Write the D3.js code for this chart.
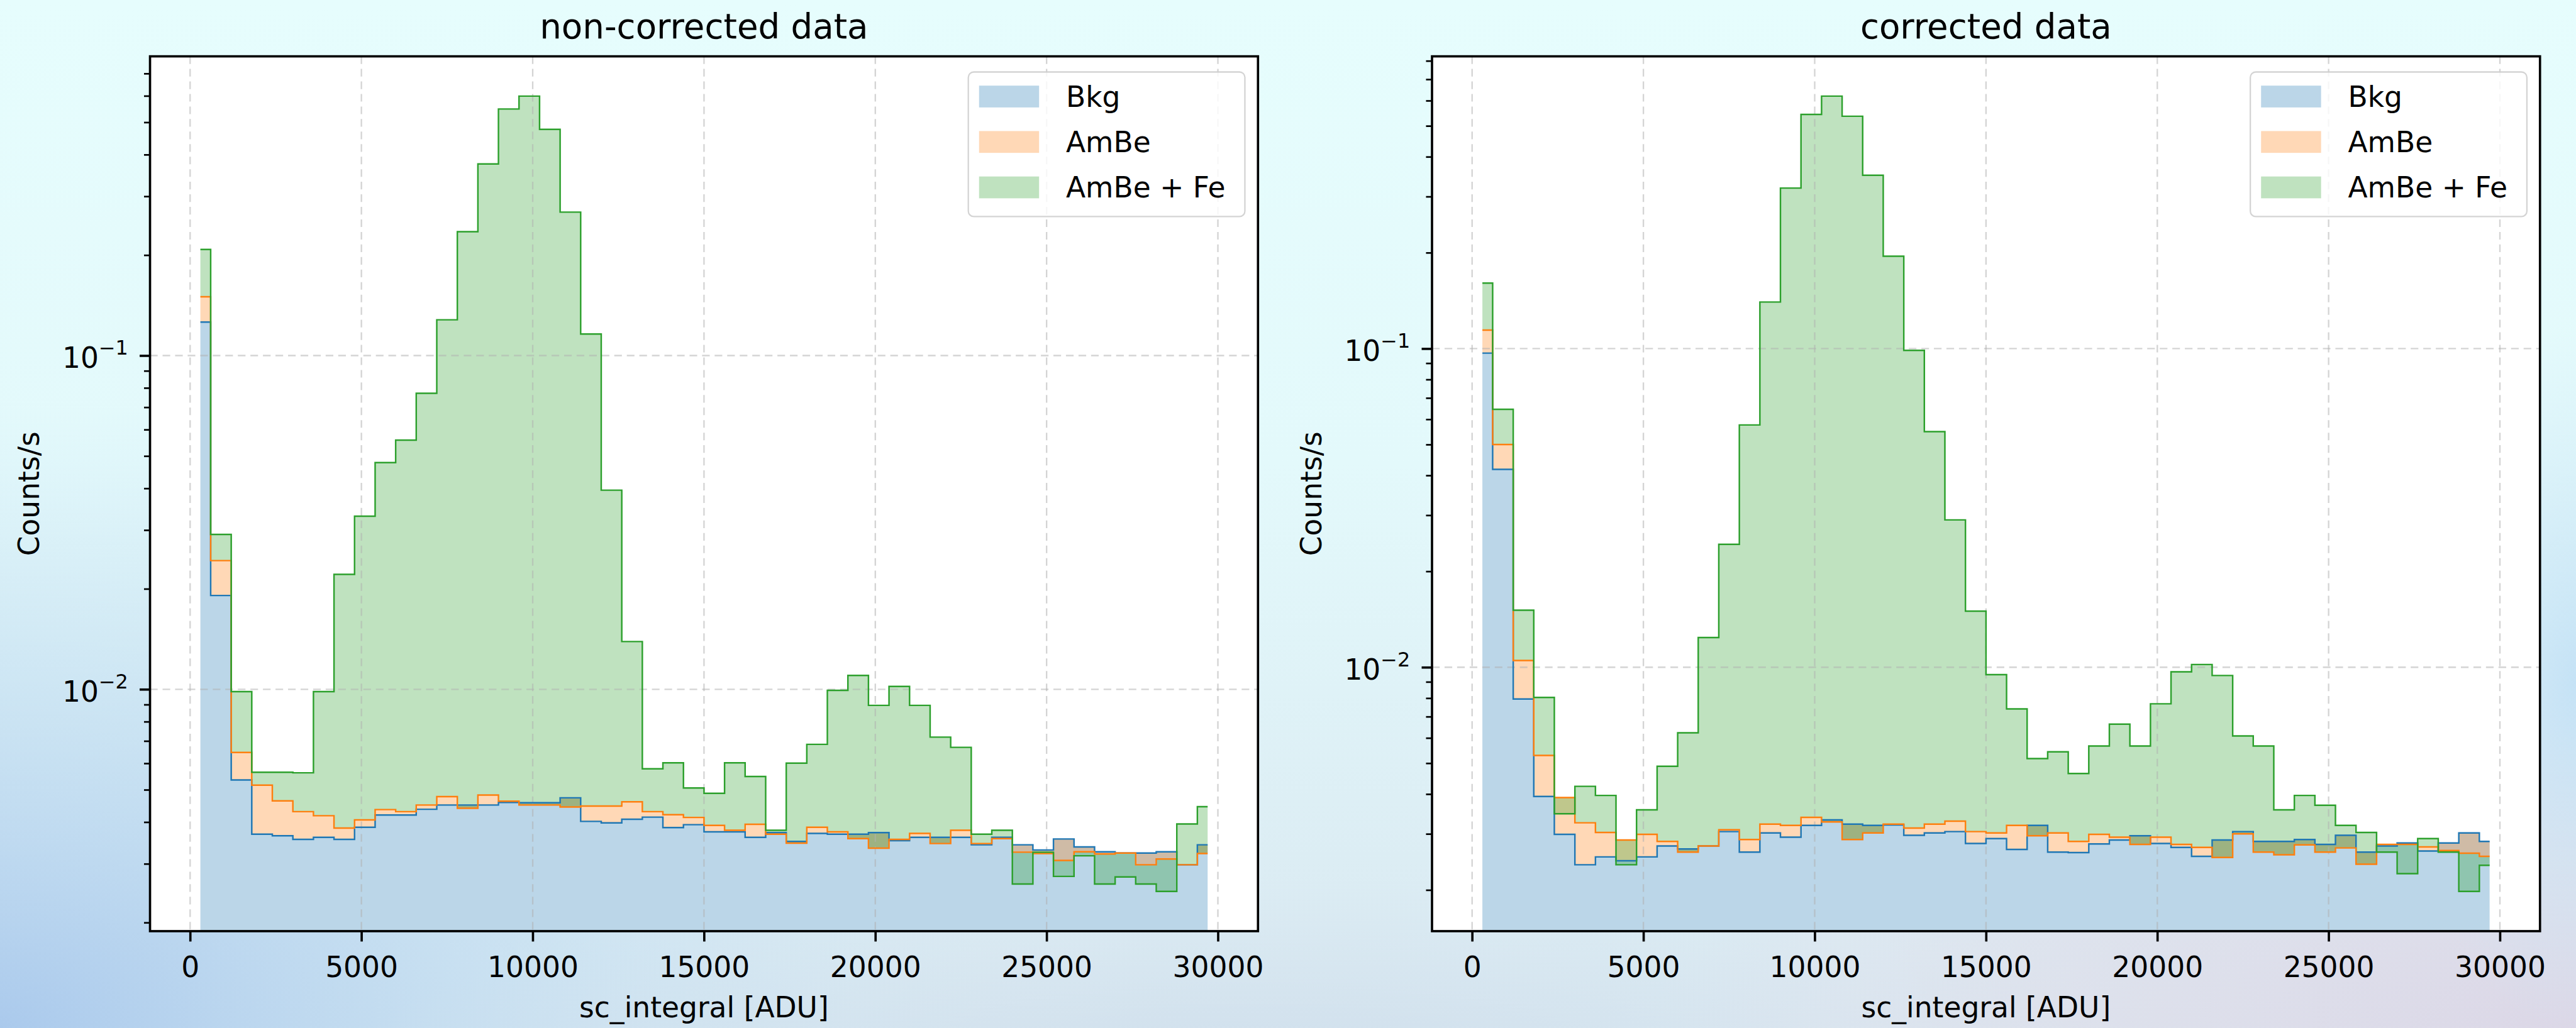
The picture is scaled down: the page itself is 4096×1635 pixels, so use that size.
<!DOCTYPE html>
<html>
<head>
<meta charset="utf-8">
<script src="https://cdn.jsdelivr.net/npm/d3@7"></script>
<style>
  html, body { margin: 0; padding: 0; background: #e6fcfc; overflow: hidden; }
  svg { display: block; }
  text { font-family: "DejaVu Sans", "Liberation Sans", sans-serif; fill: #000; }
</style>
</head>
<body>
<svg id="fig" width="4096" height="1635"></svg>
<script>
// ---- histogram binning (ADU): half-width bins at both ends, 600 ADU bins between ----
const binEdges = [300].concat(d3.range(600, 29401, 600), [29700]);

const seriesNames  = ["Bkg", "AmBe", "AmBe + Fe"];
const seriesColors = ["#1f77b4", "#ff7f0e", "#2ca02c"];
const panelTitles  = ["non-corrected data", "corrected data"];
const xTickValues  = [0, 5000, 10000, 15000, 20000, 25000, 30000];
const yTickValues  = [1e-2, 1e-1];
const yTickExponents = ["\u22122", "\u22121"];
const xAxisLabel = "sc_integral [ADU]";
const yAxisLabel = "Counts/s";

// ---- rates per bin (Counts/s), non-corrected data ----
const rawBkg = [0.126, 0.0191, 0.00535, 0.00368, 0.00364, 0.00355, 0.00360, 0.00355, 0.00386, 0.00420,
                0.00420, 0.00437, 0.00450, 0.00450, 0.00450, 0.00458, 0.00457, 0.00457, 0.00473, 0.00402,
                0.00398, 0.00408, 0.00414, 0.00385, 0.00393, 0.00374, 0.00374, 0.00360, 0.00372, 0.00350,
                0.00370, 0.00368, 0.00368, 0.00372, 0.00352, 0.00360, 0.00360, 0.00360, 0.00342, 0.00360,
                0.00342, 0.00330, 0.00356, 0.00337, 0.00326, 0.00323, 0.00323, 0.00326, 0.00298, 0.00342];
const rawAmBe = [0.150, 0.0243, 0.00647, 0.00516, 0.00463, 0.00430, 0.00418, 0.00384, 0.00406, 0.00436,
                 0.00430, 0.00450, 0.00477, 0.00440, 0.00482, 0.00462, 0.00450, 0.00450, 0.00444, 0.00447,
                 0.00447, 0.00460, 0.00430, 0.00421, 0.00413, 0.00391, 0.00378, 0.00394, 0.00368, 0.00346,
                 0.00386, 0.00374, 0.00357, 0.00334, 0.00355, 0.00370, 0.00345, 0.00378, 0.00345, 0.00357,
                 0.00325, 0.00322, 0.00307, 0.00326, 0.00321, 0.00323, 0.00298, 0.00310, 0.00298, 0.00322];
const rawAmBeFe = [0.208, 0.0291, 0.00984, 0.00564, 0.00564, 0.00562, 0.00984, 0.0221, 0.0330, 0.0478,
                   0.0558, 0.0771, 0.128, 0.235, 0.375, 0.548, 0.599, 0.476, 0.269, 0.116,
                   0.0395, 0.0139, 0.00578, 0.00602, 0.00506, 0.00488, 0.00602, 0.00548, 0.00378, 0.00601,
                   0.00684, 0.00993, 0.0110, 0.00895, 0.0102, 0.00895, 0.00719, 0.00670, 0.00368, 0.00378,
                   0.00261, 0.00325, 0.00275, 0.00317, 0.00261, 0.00274, 0.00261, 0.00248, 0.00395, 0.00445];

// ---- rates per bin (Counts/s), corrected data ----
const corrBkg = [0.0968, 0.0418, 0.00795, 0.00393, 0.00299, 0.00240, 0.00254, 0.00247, 0.00254, 0.00275,
                 0.00269, 0.00275, 0.00305, 0.00263, 0.00302, 0.00293, 0.00319, 0.00332, 0.00322, 0.00319,
                 0.00320, 0.00297, 0.00302, 0.00305, 0.00280, 0.00290, 0.00268, 0.00319, 0.00263, 0.00262,
                 0.00279, 0.00287, 0.00296, 0.00280, 0.00272, 0.00255, 0.00287, 0.00305, 0.00284, 0.00284,
                 0.00288, 0.00278, 0.00297, 0.00263, 0.00275, 0.00281, 0.00265, 0.00281, 0.00302, 0.00284];
const corrAmBe = [0.1143, 0.0500, 0.0105, 0.00529, 0.00390, 0.00325, 0.00303, 0.00287, 0.00299, 0.00284,
                  0.00263, 0.00275, 0.00309, 0.00288, 0.00322, 0.00319, 0.00338, 0.00327, 0.00288, 0.00302,
                  0.00322, 0.00313, 0.00322, 0.00329, 0.00305, 0.00302, 0.00319, 0.00296, 0.00302, 0.00284,
                  0.00299, 0.00293, 0.00278, 0.00293, 0.00278, 0.00272, 0.00253, 0.00300, 0.00263, 0.00258,
                  0.00277, 0.00263, 0.00271, 0.00241, 0.00278, 0.00278, 0.00273, 0.00266, 0.00261, 0.00255];
const corrAmBeFe = [0.1605, 0.0645, 0.0151, 0.00804, 0.00347, 0.00423, 0.00396, 0.00240, 0.00357, 0.00489,
                    0.00623, 0.0124, 0.0243, 0.0576, 0.140, 0.319, 0.543, 0.620, 0.536, 0.350,
                    0.195, 0.0987, 0.0549, 0.0290, 0.0150, 0.00948, 0.00740, 0.00517, 0.00543, 0.00464,
                    0.00566, 0.00663, 0.00566, 0.00768, 0.00968, 0.0102, 0.00942, 0.00609, 0.00566, 0.00357,
                    0.00396, 0.00369, 0.00319, 0.00303, 0.00263, 0.00225, 0.00290, 0.00263, 0.00198, 0.00239];

// ---- layout (figure units: 4722 x 1885, scaled to the window) ----
const FIG_W = 4722, FIG_H = 1885;
const S = 4096 / FIG_W;
const AX_TOP = 103.3, AX_BOTTOM = 1707.3;
const FS = 52.5, TITLE_FS = 63;
const panels = [
  { left: 275,  right: 2306, title: panelTitles[0], series: [rawBkg, rawAmBe, rawAmBeFe],   yLabelX: 72 },
  { left: 2625, right: 4656, title: panelTitles[1], series: [corrBkg, corrAmBe, corrAmBeFe], yLabelX: 2422 }
];

const svg = d3.select("#fig");
const defs = svg.append("defs");
const root = svg.append("g").attr("transform", `scale(${S})`);

// ---- figure background ----
function linGrad(id, stops) {
  const g = defs.append("linearGradient").attr("id", id)
    .attr("gradientUnits", "userSpaceOnUse")
    .attr("x1", 0).attr("y1", 0).attr("x2", 0).attr("y2", FIG_H);
  stops.forEach(([o, c, a]) => g.append("stop").attr("offset", o).attr("stop-color", c).attr("stop-opacity", a));
}
function radGrad(id, cx, cy, rx, ry, stops) {
  const g = defs.append("radialGradient").attr("id", id)
    .attr("gradientUnits", "userSpaceOnUse")
    .attr("cx", cx).attr("cy", cy).attr("r", rx)
    .attr("gradientTransform", `translate(${cx},${cy}) scale(1,${ry / rx}) translate(${-cx},${-cy})`);
  stops.forEach(([o, c, a]) => g.append("stop").attr("offset", o).attr("stop-color", c).attr("stop-opacity", a));
}
linGrad("bgBase", [[0, "#e6fdfd", 1], [0.45, "#e3f9fb", 1], [1, "#d9e8f1", 1]]);
radGrad("bgBL", 0, FIG_H, 1800, 1150, [[0, "#a8c8ec", 0.95], [0.45, "#bcd9f0", 0.65], [1, "#c8e4f4", 0]]);
radGrad("bgBC", 2300, FIG_H + 100, 1700, 380, [[0, "#cbdbea", 0.8], [1, "#d4e2ee", 0]]);
radGrad("bgBR", FIG_W, FIG_H, 1700, 750, [[0, "#dcd6e6", 0.95], [0.6, "#e0dde9", 0.55], [1, "#e4e4ee", 0]]);
radGrad("bgR", FIG_W, 1250, 320, 650, [[0, "#c2e1f6", 0.9], [1, "#cfe8f6", 0]]);
["bgBase", "bgBL", "bgBC", "bgBR", "bgR"].forEach(id =>
  root.append("rect").attr("x", 0).attr("y", 0).attr("width", FIG_W).attr("height", FIG_H).attr("fill", `url(#${id})`));

// ---- axis helpers ----
const xExtent = d3.extent(binEdges);
const xPad = 0.05 * (xExtent[1] - xExtent[0]);
const xDomain = [xExtent[0] - xPad, xExtent[1] + xPad];

function logDomain(arrays) {
  const all = arrays.flat();
  const lo = Math.log10(d3.min(all)), hi = Math.log10(d3.max(all));
  const pad = 0.05 * (hi - lo);
  return [Math.pow(10, lo - pad), Math.pow(10, hi + pad)];
}

panels.forEach((p, pi) => {
  const g = root.append("g");
  const x = d3.scaleLinear().domain(xDomain).range([p.left, p.right]);
  const y = d3.scaleLog().domain(logDomain(p.series)).range([AX_BOTTOM, AX_TOP]);

  // axes face
  g.append("rect").attr("x", p.left).attr("y", AX_TOP)
    .attr("width", p.right - p.left).attr("height", AX_BOTTOM - AX_TOP).attr("fill", "#fff");

  const clipId = `plotClip${pi}`;
  defs.append("clipPath").attr("id", clipId).append("rect")
    .attr("x", p.left).attr("y", AX_TOP).attr("width", p.right - p.left).attr("height", AX_BOTTOM - AX_TOP);
  const plot = g.append("g").attr("clip-path", `url(#${clipId})`);

  // filled bands: each series fills from the previous series' outline to its own
  p.series.forEach((vals, si) => {
    const prev = si === 0 ? null : p.series[si - 1];
    const pts = binEdges.map((e, i) => {
      const j = Math.min(i, vals.length - 1);
      return { e, hi: vals[j], lo: prev ? prev[j] : null };
    });
    const area = d3.area().curve(d3.curveStepAfter)
      .x(d => x(d.e))
      .y0(d => d.lo == null ? AX_BOTTOM : y(d.lo))
      .y1(d => y(d.hi));
    plot.append("path").attr("d", area(pts))
      .attr("fill", seriesColors[si]).attr("fill-opacity", 0.3);
  });

  // dashed grid
  const grid = plot.append("g").attr("stroke", "#b0b0b0").attr("stroke-opacity", 0.55)
    .attr("stroke-width", 2.7).attr("stroke-dasharray", "14 9").attr("fill", "none");
  xTickValues.forEach(v => grid.append("line")
    .attr("x1", x(v)).attr("x2", x(v)).attr("y1", AX_TOP).attr("y2", AX_BOTTOM));
  yTickValues.forEach(v => grid.append("line")
    .attr("x1", p.left).attr("x2", p.right).attr("y1", y(v)).attr("y2", y(v)));

  // step outlines
  p.series.forEach((vals, si) => {
    const pts = binEdges.map((e, i) => ({ e, v: vals[Math.min(i, vals.length - 1)] }));
    const line = d3.line().curve(d3.curveStepAfter).x(d => x(d.e)).y(d => y(d.v));
    plot.append("path").attr("d", line(pts)).attr("fill", "none")
      .attr("stroke", seriesColors[si]).attr("stroke-width", 2.8).attr("stroke-linejoin", "miter");
  });

  // x axis
  const xAxis = g.append("g").attr("transform", `translate(0,${AX_BOTTOM})`)
    .call(d3.axisBottom(x).tickValues(xTickValues).tickSize(19).tickFormat(d3.format("d")));
  xAxis.select(".domain").remove();
  xAxis.attr("font-size", null).attr("font-family", null);
  xAxis.selectAll("line").attr("stroke", "#000").attr("stroke-width", 4.2);
  xAxis.selectAll("text").attr("y", 84).attr("dy", null)
    .style("font-size", FS + "px").attr("fill", "#000");

  // y axis: major + minor ticks
  const minorVals = y.ticks().filter(v => Math.abs(Math.log10(v) - Math.round(Math.log10(v))) > 1e-6);
  const yMinor = g.append("g").attr("transform", `translate(${p.left},0)`)
    .call(d3.axisLeft(y).tickValues(minorVals).tickSize(11).tickFormat(""));
  yMinor.select(".domain").remove();
  yMinor.selectAll("line").attr("stroke", "#000").attr("stroke-width", 3.1);
  const yMajor = g.append("g").attr("transform", `translate(${p.left},0)`)
    .call(d3.axisLeft(y).tickValues(yTickValues).tickSize(19).tickFormat(""));
  yMajor.select(".domain").remove();
  yMajor.selectAll("line").attr("stroke", "#000").attr("stroke-width", 4.2);

  yTickValues.forEach((v, i) => {
    const t = g.append("text").attr("x", p.left - 40).attr("y", y(v) + 23)
      .attr("text-anchor", "end").style("font-size", FS + "px");
    t.append("tspan").text("10");
    t.append("tspan").attr("dy", -25).style("font-size", (FS * 0.7) + "px").text(yTickExponents[i]);
  });

  // spines
  g.append("rect").attr("x", p.left).attr("y", AX_TOP)
    .attr("width", p.right - p.left).attr("height", AX_BOTTOM - AX_TOP)
    .attr("fill", "none").attr("stroke", "#000").attr("stroke-width", 4.2);

  // titles and axis labels
  const cx = (p.left + p.right) / 2;
  g.append("text").attr("x", cx).attr("y", 70).attr("text-anchor", "middle")
    .style("font-size", TITLE_FS + "px").text(p.title);
  g.append("text").attr("x", cx).attr("y", 1865).attr("text-anchor", "middle")
    .style("font-size", FS + "px").text(xAxisLabel);
  g.append("text").attr("transform", `translate(${p.yLabelX},${(AX_TOP + AX_BOTTOM) / 2}) rotate(-90)`)
    .attr("text-anchor", "middle").style("font-size", FS + "px").text(yAxisLabel);

  // legend
  const bw = 507, bh = 265, bx = p.right - 24 - bw, by = 132;
  const lg = g.append("g");
  lg.append("rect").attr("x", bx).attr("y", by).attr("width", bw).attr("height", bh).attr("rx", 10)
    .attr("fill", "#fff").attr("fill-opacity", 0.8)
    .attr("stroke", "#cccccc").attr("stroke-opacity", 0.85).attr("stroke-width", 2.6);
  seriesNames.forEach((name, i) => {
    const cy = by + 45 + i * 83.3;
    lg.append("rect").attr("x", bx + 19.7).attr("y", cy - 20).attr("width", 110).attr("height", 40)
      .attr("fill", seriesColors[i]).attr("fill-opacity", 0.3);
    lg.append("text").attr("x", bx + 179).attr("y", cy + 18.5)
      .style("font-size", FS + "px").text(name);
  });
});
</script>
</body>
</html>
